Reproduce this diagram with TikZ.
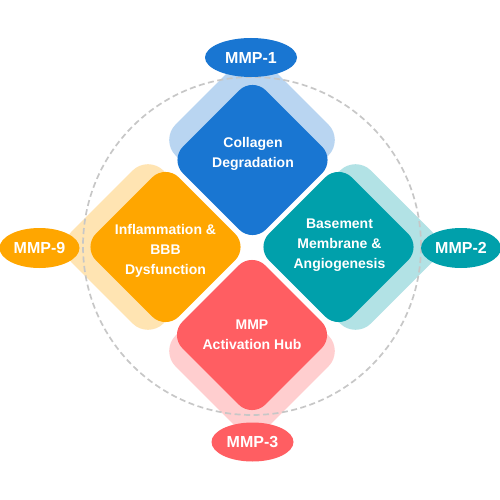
\documentclass[tikz,border=0pt]{standalone}
\usepackage{fontspec}
\setmainfont{Liberation Sans}
\usetikzlibrary{shapes.geometric}
\definecolor{cblue}{HTML}{1976D2}
\definecolor{corange}{HTML}{FFA600}
\definecolor{cteal}{HTML}{00A0AB}
\definecolor{cred}{HTML}{FF5E62}
\begin{document}
\begin{tikzpicture}[x=1pt,y=-1pt,
  dmain/.style={shape=diamond, minimum width=166pt, minimum height=166pt, inner sep=0pt, rounded corners=19pt, draw=none},
  dshadow/.style={shape=diamond, minimum width=184pt, minimum height=184pt, inner sep=0pt, rounded corners=22pt, draw=none, fill opacity=0.3},
  dtext/.style={text=white, font=\fontsize{14}{20}\selectfont\bfseries, align=center, inner sep=0pt},
  mmp/.style={shape=ellipse, inner sep=0pt, minimum height=39pt, text=white, font=\fontsize{16}{19}\selectfont\bfseries},
  ringstyle/.style={shape=circle, draw=black!22, line width=1.7pt, dash pattern=on 6pt off 3.5pt, minimum size=338pt, inner sep=0pt}]
\useasboundingbox (0,0) rectangle (500,500);
\fill[white] (0,0) rectangle (500,500);
% shadows
\node[dshadow, fill=cblue] (s1) at (252,140) {};
\node[dshadow, fill=corange] (s2) at (148,247) {};
\node[dshadow, fill=cteal] (s3) at (355.5,247) {};
\node[dshadow, fill=cred] (s4) at (252,351) {};
% dashed ring
\node[ringstyle] (ring) at (252,246) {};
% main diamonds
\node[dmain, fill=cblue] (d1) at (252.5,160) {};
\node[dmain, fill=corange] (d2) at (165.5,247) {};
\node[dmain, fill=cteal] (d3) at (338.5,247) {};
\node[dmain, fill=cred] (d4) at (252,335) {};
% texts
\node[dtext] (t1) at (253,154) {Collagen\\Degradation};
\node[dtext] (t2) at (165.5,251) {Inflammation \&\\BBB\\Dysfunction};
\node[dtext] (t3) at (339.5,245) {Basement\\Membrane \&\\Angiogenesis};
\node[dtext] (t4) at (252,335) {MMP\\Activation Hub};
% MMP ellipses
\node[mmp, fill=cblue, minimum width=92pt] (m1) at (251,57.5) {MMP-1};
\node[mmp, fill=corange, minimum width=80pt, minimum height=40pt] (m9) at (39.5,248) {MMP-9};
\node[mmp, fill=cteal, minimum width=80pt, minimum height=40pt] (m2) at (461,248) {MMP-2};
\node[mmp, fill=cred, minimum width=82pt] (m3) at (252.5,442) {MMP-3};
\end{tikzpicture}
\end{document}
